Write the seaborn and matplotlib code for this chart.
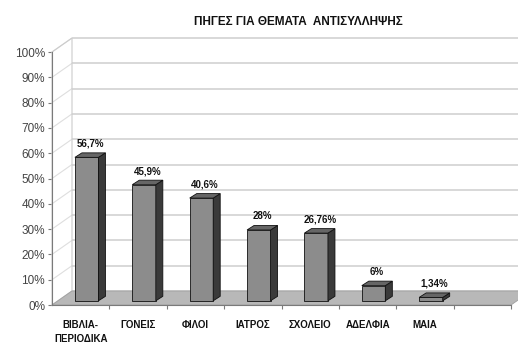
import matplotlib
matplotlib.use("Agg")
import matplotlib.pyplot as plt
import pandas as pd
import seaborn as sns
from matplotlib.patches import Polygon, Rectangle

# ---- data ----
categories = ["ΒΙΒΛΙΑ-\nΠΕΡΙΟΔΙΚΑ", "ΓΟΝΕΙΣ", "ΦΙΛΟΙ", "ΙΑΤΡΟΣ", "ΣΧΟΛΕΙΟ", "ΑΔΕΛΦΙΑ", "ΜΑΙΑ"]
values = [56.7, 45.9, 40.6, 28, 26.76, 6, 1.34]
value_labels = ["56,7%", "45,9%", "40,6%", "28%", "26,76%", "6%", "1,34%"]
y_ticks = list(range(0, 101, 10))
y_tick_labels = [f"{t}%" for t in y_ticks]
title = "ΠΗΓΕΣ ΓΙΑ ΘΕΜΑΤΑ  ΑΝΤΙΣΥΛΛΗΨΗΣ"

sns.set_theme(style="white")
plt.rcParams["font.family"] = ["Liberation Sans", "DejaVu Sans"]

W, H = 518, 345
fig = plt.figure(figsize=(W / 100, H / 100), dpi=100)

# front plane of the 3-D box, in pixels
px_left, px_right, px_bottom, px_top = 52, 511, 305, 52
ax = fig.add_axes([px_left / W, 1 - px_bottom / H,
                   (px_right - px_left) / W, (px_bottom - px_top) / H])

n_slots = len(categories) + 1
xlo, xhi = -0.5, n_slots - 0.5
px_per_x = (px_right - px_left) / n_slots
px_per_y = (px_bottom - px_top) / 100
DX, DY = 20 / px_per_x, 14 / px_per_y     # depth of the box in data units

df = pd.DataFrame({"cat": categories, "val": values})
sns.barplot(data=df, x="cat", y="val", order=categories, width=0.41,
            color="#8c8c8c", saturation=1, edgecolor="#111111",
            linewidth=0.6, ax=ax, zorder=4)
bars = list(ax.containers[0])

ax.set_xlim(xlo, xhi)
ax.set_ylim(0, 100)
ax.set_facecolor("none")

# back wall and gridlines
ax.add_patch(Rectangle((xlo + DX, DY), (xhi - xlo) + 2, 100, facecolor="white",
                       edgecolor="none", zorder=0, clip_on=False))
for t in y_ticks:
    ax.plot([xlo + DX, xhi + DX + 1], [t + DY, t + DY], color="#d8d8d8",
            lw=1.4, zorder=0.5, clip_on=False, solid_capstyle="butt")
    ax.plot([xlo, xlo + DX], [t, t + DY], color="#dedede", lw=0.8,
            zorder=0.6, clip_on=False)
# left wall outline
ax.add_patch(Polygon([(xlo, 0), (xlo, 100), (xlo + DX, 100 + DY), (xlo + DX, DY)],
                     closed=True, facecolor="none", edgecolor="#cccccc",
                     lw=0.8, zorder=0.7, clip_on=False))
# floor
ax.add_patch(Polygon([(xlo, 0), (xhi, 0), (xhi + DX, DY), (xlo + DX, DY)],
                     closed=True, facecolor="#b8b8b8", edgecolor="#a0a0a0",
                     lw=0.6, zorder=1, clip_on=False))

# 3-D bars: shift front faces into the box, add side and top faces
fdx, fdy = 0.3 * DX, 0.3 * DY
bdx, bdy = 0.35 * DX, 0.32 * DY
for bar, label in zip(bars, value_labels):
    x = bar.get_x()
    w = bar.get_width()
    h = bar.get_height()
    bar.set_x(x + fdx)
    bar.set_y(fdy)
    xl, xr = x + fdx, x + fdx + w
    top = fdy + h
    ax.add_patch(Polygon([(xr, fdy), (xr, top), (xr + bdx, top + bdy), (xr + bdx, fdy + bdy)],
                         closed=True, facecolor="#3a3a3a", edgecolor="#111111",
                         lw=0.6, zorder=4, clip_on=False))
    ax.add_patch(Polygon([(xl, top), (xr, top), (xr + bdx, top + bdy), (xl + bdx, top + bdy)],
                         closed=True, facecolor="#666666", edgecolor="#111111",
                         lw=0.6, zorder=4, clip_on=False))
    ax.annotate(label, (xl + w / 2 + bdx / 2, top + bdy), xytext=(0, 3),
                textcoords="offset points", ha="center", va="bottom",
                fontsize=7, fontweight="bold", color="#111111", zorder=6)

# axes
for s in ["top", "right"]:
    ax.spines[s].set_visible(False)
for s in ["left", "bottom"]:
    ax.spines[s].set_color("#7a7a7a")
    ax.spines[s].set_linewidth(0.8)
    ax.spines[s].set_zorder(2)
ax.set_yticks(y_ticks)
ax.set_yticklabels(y_tick_labels)
ax.set_xticks(range(len(categories)))
ax.set_xticklabels(categories, fontweight="bold", fontsize=7, linespacing=1.5)
ax.set_xticks([i + 0.5 for i in range(len(categories) + 1)], minor=True)
ax.tick_params(axis="y", left=True, direction="out", length=3, width=0.8,
               color="#7a7a7a", labelsize=8.5, labelcolor="#444444", pad=2)
ax.tick_params(axis="x", which="major", bottom=True, length=0, pad=11,
               labelcolor="#111111")
ax.tick_params(axis="x", which="minor", bottom=True, length=3, width=0.8,
               color="#7a7a7a")
ax.set_xlabel("")
ax.set_ylabel("")

fig.text(298 / W, 1 - 22 / H, title, ha="center", va="center",
         fontsize=8.5, fontweight="bold", color="#111111")

fig.savefig("out.png", dpi=100)
